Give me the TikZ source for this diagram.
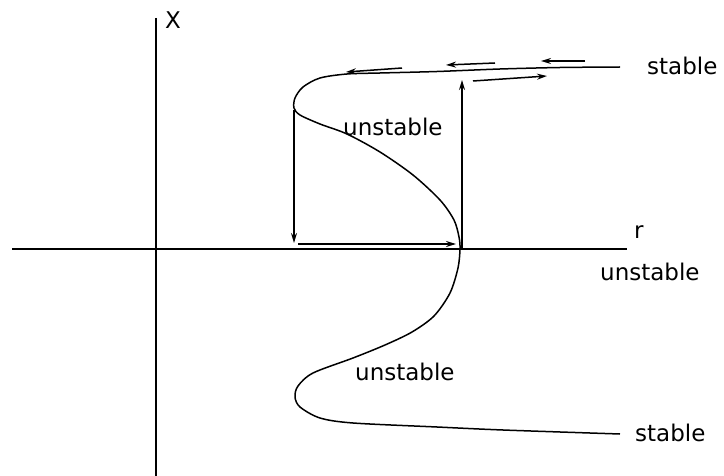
\documentclass[tikz,border=0pt]{standalone}
\usepackage{fontspec}
\setmainfont{DejaVu Sans}
\usetikzlibrary{arrows.meta}
\begin{document}
\begin{tikzpicture}[x=1pt,y=-1pt,
  axisline/.style={line width=1.4pt,black},
  curveline/.style={line width=1.5pt,black},
  flow/.style={line width=1.5pt,-{Stealth[length=10pt,width=6pt]}},
  lbl/.style={font=\fontsize{23}{26}\selectfont,inner sep=0pt,anchor=west}]
\useasboundingbox (0,0) rectangle (724,476);
% axes
\coordinate (xl) at (12,249);
\coordinate (xr) at (627,249);
\coordinate (yt) at (156,18);
\coordinate (yb) at (156,476);
\draw[axisline] (xl) -- (xr);
\draw[axisline] (yt) -- (yb);
\node[lbl] (Xlab) at (165,20) {X};
\node[lbl] (rlab) at (634,232) {r};
% curve
\draw[curveline] plot[smooth,tension=0.5] coordinates {
 (620,67) (560,67.5) (500,69) (437,71.5) (380,73) (347,74) (320,78) (303,87)
 (295,98) (294,108) (300,115) (320,124) (347,134) (380,152) (413,175)
 (440,200) (454,220) (459,237) (460,249) (458,268) (450,293) (434,316)
 (412,332) (385,345) (353,358) (313,373) (298,386) (295,397) (300,407)
 (320,418) (353,423) (437,427) (503,430) (620,434)};
% labels
\node[lbl] (st1) at (647,66) {stable};
\node[lbl] (un1) at (343,127) {unstable};
\node[lbl] (un2) at (600,272) {unstable};
\node[lbl] (un3) at (355,372) {unstable};
\node[lbl] (st2) at (635,433) {stable};
% hysteresis arrows
\coordinate (d1) at (294,110);
\coordinate (d2) at (294,243);
\coordinate (h1) at (298,244);
\coordinate (h2) at (456,244);
\coordinate (u1) at (462,249);
\coordinate (u2) at (462,80);
\draw[flow] (d1) -- (d2);
\draw[flow] (h1) -- (h2);
\draw[flow] (u1) -- (u2);
% flow arrows on the top branch
\coordinate (a1) at (402,68); \coordinate (a2) at (346,72);
\coordinate (b1) at (495,63); \coordinate (b2) at (446,65);
\coordinate (c1) at (585,61); \coordinate (c2) at (541,61);
\coordinate (e1) at (473,81); \coordinate (e2) at (547,76);
\draw[flow] (a1) -- (a2);
\draw[flow] (b1) -- (b2);
\draw[flow] (c1) -- (c2);
\draw[flow] (e1) -- (e2);
\end{tikzpicture}
\end{document}
